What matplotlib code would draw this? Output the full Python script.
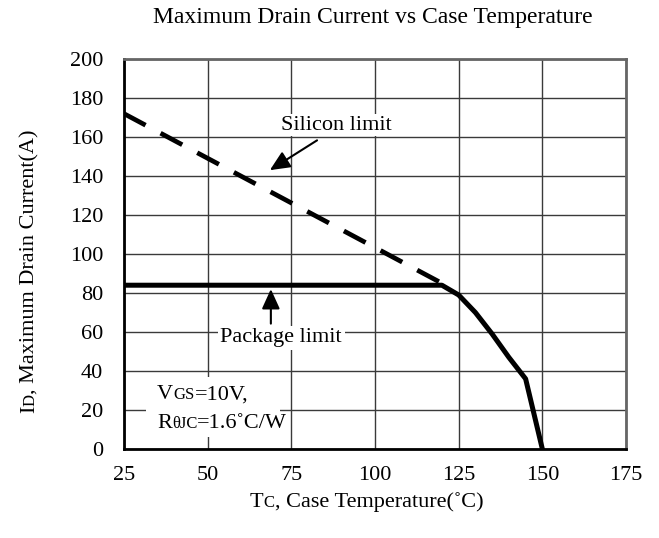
import matplotlib
matplotlib.use("Agg")
import matplotlib.pyplot as plt
from matplotlib.patches import Rectangle

# silicon limit (dashed) and package limit (solid)
temp_silicon = [25, 120]
id_silicon = [172, 85]

temp_package = [25, 120, 125, 130, 135, 140, 145, 150]
id_package = [84, 84, 79, 70, 59, 47, 36, 0]

x_ticks = [25, 50, 75, 100, 125, 150, 175]
y_ticks = [0, 20, 40, 60, 80, 100, 120, 140, 160, 180, 200]

plt.rcParams["font.family"] = ["Liberation Serif", "DejaVu Serif"]
FS = 16
FS_SMALL = 12
ARROW = dict(arrowstyle="-|>,head_length=0.55,head_width=0.25", color="black",
             lw=1.5, mutation_scale=22, shrinkA=0, shrinkB=0)


def rich(ax, parts, xy, coords, rotation=0):
    """Draw text pieces of mixed size on one baseline (small caps look)."""
    xc, yc = coords
    prev = None
    for s, size in parts:
        kw = dict(fontsize=size, ha="left", va="baseline",
                  rotation=rotation, rotation_mode="anchor", annotation_clip=False,
                  zorder=5)
        if prev is None:
            t = ax.annotate(s, xy=xy, xycoords=(xc, yc), **kw)
        elif rotation == 0:
            t = ax.annotate(s, xy=(1, xy[1]), xycoords=(prev, yc), **kw)
        else:
            t = ax.annotate(s, xy=(xy[0], 1), xycoords=(xc, prev), **kw)
        prev = t


fig = plt.figure(figsize=(6.59, 5.38), dpi=100)
ax = fig.add_axes([0.188, 0.1654, 0.762, 0.7249])

ax.set_axisbelow(True)
ax.grid(True, color="#3a3a3a", lw=1.0)

ax.plot(temp_silicon, id_silicon, color="black", lw=3.4, ls=(0, (5.2, 3.6)),
        dash_capstyle="butt", zorder=3)
ax.plot(temp_package, id_package, color="black", lw=3.6, solid_joinstyle="round",
        zorder=3)

ax.set_xlim(25, 175)
ax.set_ylim(0, 200)
ax.set_xticks(x_ticks)
ax.set_yticks(y_ticks)
ax.tick_params(length=0, labelsize=FS)
ax.tick_params(axis="x", pad=12)
ax.tick_params(axis="y", pad=15)

for side in ("left", "bottom"):
    ax.spines[side].set_linewidth(2)
    ax.spines[side].set_color("black")
for side in ("top", "right"):
    ax.spines[side].set_linewidth(2)
    ax.spines[side].set_color("#666666")

# annotations
ax.text(88.6, 166, "Silicon limit", fontsize=FS, ha="center", va="center",
        bbox=dict(fc="white", ec="none", pad=1), zorder=4)
ax.annotate("", xy=(68.6, 143), xytext=(82.7, 158.3), arrowprops=ARROW, zorder=4)
ax.text(72, 57, "Package limit", fontsize=FS, ha="center", va="center",
        bbox=dict(fc="white", ec="none", pad=2), zorder=4)
ax.annotate("", xy=(68.9, 82), xytext=(68.9, 64.3), arrowprops=ARROW, zorder=4)

ax.add_patch(Rectangle((31.5, 6), 40, 31, fc="white", ec="none", zorder=1))
rich(ax, [("V", FS), ("GS", FS_SMALL), ("=10V,", FS)], (34.9, 25.5), ("data", "data"))
rich(ax, [("R", FS), ("θJC", FS_SMALL), ("=1.6˚C/W", FS)], (34.9, 11), ("data", "data"))

# title and axis labels
fig.text(0.565, 0.967, "Maximum Drain Current vs Case Temperature",
         fontsize=17, ha="center", va="center")
rich(ax, [("T", FS), ("C", FS_SMALL), (", Case Temperature(˚C)", FS)],
     (250 / 659, 0.058), ("figure fraction", "figure fraction"))
rich(ax, [("I", FS), ("D", FS_SMALL), (", Maximum Drain Current(A)", FS)],
     (0.052, 125 / 538), ("figure fraction", "figure fraction"), rotation=90)

fig.savefig("out.png", dpi=100)
